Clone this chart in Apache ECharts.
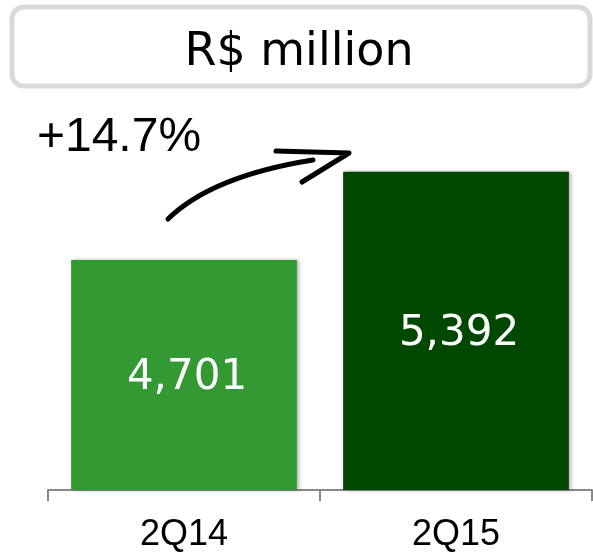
<!DOCTYPE html>
<html>
<head>
<meta charset="utf-8">
<style>
  html, body { margin: 0; padding: 0; background: #fff; }
  #chart { width: 593px; height: 553px; }
</style>
<script src="https://cdn.jsdelivr.net/npm/echarts@6/dist/echarts.min.js"></script>
</head>
<body>
<div id="chart"></div>
<script>
const categories = ['2Q14', '2Q15'];
const values = [4701, 5392];
const barColors = ['#339933', '#004800'];
const titleText = 'R$ million';
const growthText = '+14.7%';

const chart = echarts.init(document.getElementById('chart'));

const option = {
    animation: false,
    grid: { left: 48, right: 1, top: 94, bottom: 60 },
    xAxis: {
        type: 'category',
        data: categories,
        axisLine: { lineStyle: { color: '#888888', width: 2 } },
        axisTick: { show: true, length: 11, lineStyle: { color: '#888888', width: 2 } },
        axisLabel: {
            color: '#000',
            fontFamily: 'Liberation Sans',
            fontSize: 36,
            margin: 27
        }
    },
    yAxis: {
        type: 'value',
        min: 2900,
        max: 6000,
        show: false
    },
    series: [{
        type: 'bar',
        barWidth: '83%',
        data: values.map((v, i) => ({
            value: v,
            itemStyle: { color: barColors[i] }
        })),
        itemStyle: {
            shadowColor: 'rgba(0,0,0,0.3)',
            shadowBlur: 4,
            shadowOffsetX: 2
        },
        label: {
            show: true,
            position: 'inside',
            offset: [3, 3],
            color: '#fff',
            fontFamily: 'DejaVu Sans',
            fontSize: 42,
            formatter: p => p.value.toLocaleString('en-US')
        }
    }],
    graphic: [
        // title box
        {
            type: 'rect',
            shape: { x: 12, y: 7, width: 578, height: 79, r: 12 },
            style: { fill: '#fff', stroke: '#d9d9d9', lineWidth: 5 }
        },
        {
            type: 'text',
            x: 299, y: 53,
            style: {
                text: titleText,
                fontFamily: 'DejaVu Sans',
                fontSize: 46,
                fill: '#000',
                align: 'center',
                verticalAlign: 'middle'
            }
        },
        // growth annotation
        {
            type: 'text',
            x: 119, y: 138,
            style: {
                text: growthText,
                fontFamily: 'Liberation Sans',
                fontSize: 48,
                fill: '#000',
                align: 'center',
                verticalAlign: 'middle'
            }
        },
        {
            type: 'bezierCurve',
            shape: { x1: 168, y1: 219, x2: 313, y2: 160, cpx1: 212, cpy1: 176 },
            style: { stroke: '#000', lineWidth: 5, lineCap: 'round', fill: null }
        },
        {
            type: 'polyline',
            shape: { points: [[276, 151], [349, 153], [302, 182]] },
            style: { stroke: '#000', lineWidth: 5, lineCap: 'round', lineJoin: 'round', fill: null }
        }
    ]
};

chart.setOption(option);
</script>
</body>
</html>
